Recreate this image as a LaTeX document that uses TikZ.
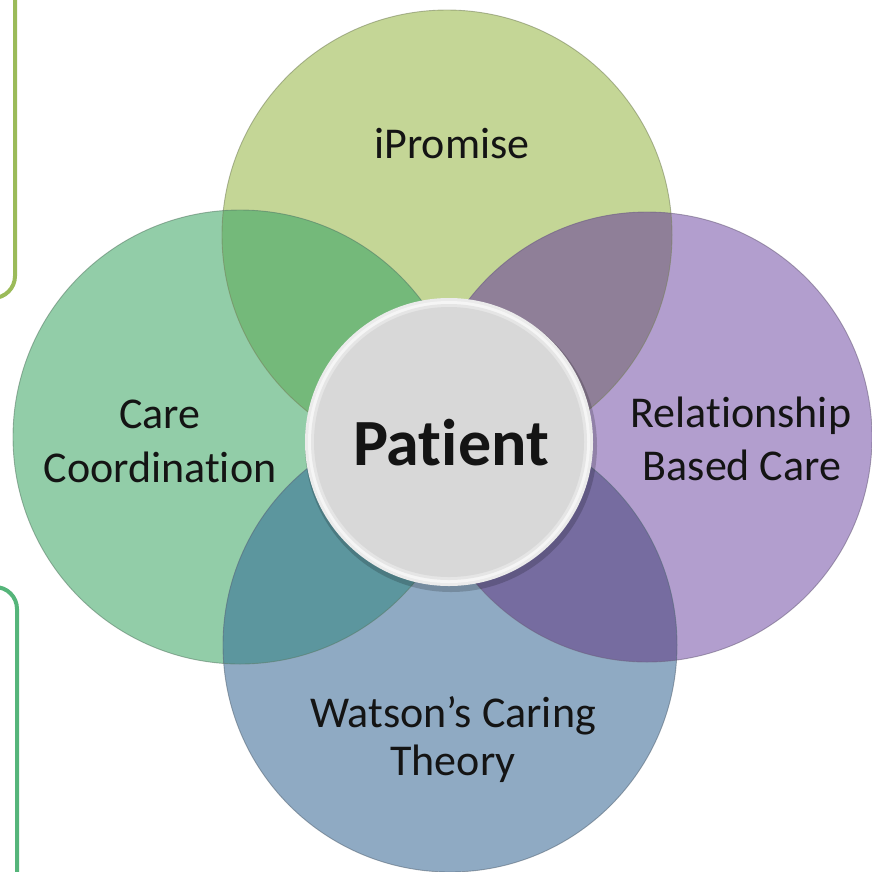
\documentclass[tikz,border=0pt]{standalone}
\usepackage{fontspec}
\setmainfont{Carlito}[Ligatures=NoCommon]
\usetikzlibrary{calc}
\definecolor{ctop}{HTML}{C4D696}
\definecolor{cleft}{HTML}{92CDA8}
\definecolor{cright}{HTML}{B29ECE}
\definecolor{cbot}{HTML}{8FAAC3}
\definecolor{ctl}{HTML}{74B97A}
\definecolor{ctr}{HTML}{8F7F98}
\definecolor{cbl}{HTML}{5C969E}
\definecolor{cbr}{HTML}{766CA0}
\definecolor{cpat}{HTML}{D8D8D8}
\definecolor{boxa}{HTML}{9BBB59}
\definecolor{boxb}{HTML}{55B57A}
\definecolor{ink}{HTML}{141414}
\begin{document}
\begin{tikzpicture}[x=1pt,y=-1pt,
  lab/.style={anchor=base,inner sep=0pt,text=ink,font=\fontsize{44}{54}\selectfont},
  rim/.style={line width=0.9pt,opacity=0.55},
  sidebox/.style={line width=4pt,rounded corners=22pt}]
\useasboundingbox (0,0) rectangle (872,871);
\clip (0,0) rectangle (872,871);
% side boxes
\draw[sidebox,boxa] (-60,-60) rectangle (15,298);
\draw[sidebox,boxb] (-60,587) rectangle (17,940);
% centres
\coordinate (T) at (447,235);
\coordinate (L) at (240,437);
\coordinate (R) at (647,437);
\coordinate (B) at (450,645);
\coordinate (C) at (449,442);
% base circles
\fill[ctop] (T) circle (225);
\fill[cleft] (L) circle (227);
\fill[cright] (R) circle (225);
\fill[cbot] (B) circle (227);
% overlaps
\begin{scope}\clip (T) circle (225);\fill[ctl] (L) circle (227);\end{scope}
\begin{scope}\clip (T) circle (225);\fill[ctr] (R) circle (225);\end{scope}
\begin{scope}\clip (B) circle (227);\fill[cbl] (L) circle (227);\end{scope}
\begin{scope}\clip (B) circle (227);\fill[cbr] (R) circle (225);\end{scope}
% outlines
\draw[rim,ctop!60!black] (T) circle (225);
\draw[rim,cleft!60!black] (L) circle (227);
\draw[rim,cright!60!black] (R) circle (225);
\draw[rim,cbot!60!black] (B) circle (227);
% centre disc
\fill[black,opacity=0.18] ($(C)+(2,4)$) circle (146);
\fill[black!8] (C) circle (144);
\fill[white!96!black] (C) circle (141);
\fill[white!90!black] (C) circle (138);
\fill[cpat] (C) circle (135);
\node[anchor=base,inner sep=0pt,text=ink,font=\fontsize{66}{70}\selectfont\bfseries] (pat) at (451,465) {Patient};
% labels
\node[lab] (ip) at (452,158) {iPromise};
\node[lab] (cc1) at (160,428) {Care};
\node[lab] (cc2) at (160,482) {Coordination};
\node[lab] (rb1) at (741,427) {Relationship};
\node[lab] (rb2) at (742,480) {Based Care};
\node[lab] (wc1) at (453,727) {Watson’s Caring};
\node[lab] (wc2) at (453,775) {Theory};
\end{tikzpicture}
\end{document}
